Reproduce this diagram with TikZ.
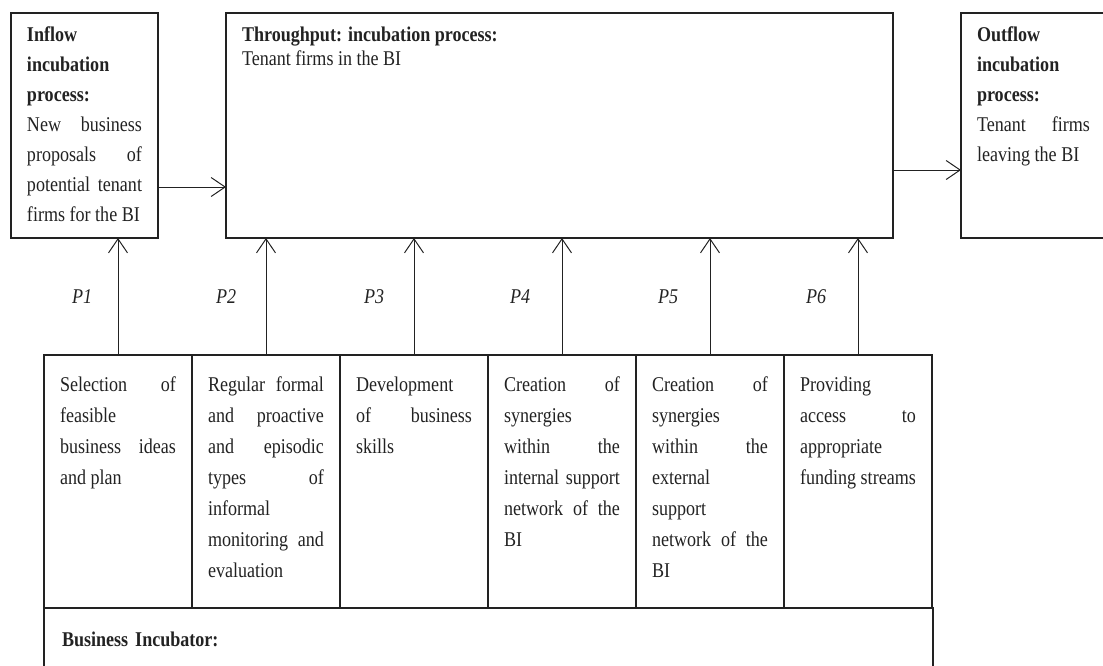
\documentclass[tikz,border=0pt]{standalone}
\usepackage{fontspec}
\setmainfont{Liberation Serif}[FakeStretch=0.86]
\usepackage{tikz}
\usetikzlibrary{arrows.meta,positioning}
\definecolor{ink}{HTML}{222222}
\newcommand{\sidetext}[2]{\parbox[t][197pt][t]{#1}{#2}}
\newcommand{\celltext}[1]{\parbox[t][209pt][t]{116pt}{#1}}
\tikzset{
  stage/.style={
    draw=ink, line width=1.3pt, text=ink, inner xsep=16pt, inner ysep=14pt,
    outer sep=0pt, font=\fontsize{21pt}{30pt}\selectfont
  },
  cell/.style={
    draw=ink, line width=1.3pt, text=ink, inner xsep=16pt, inner ysep=22pt,
    outer sep=0pt, font=\fontsize{21pt}{31pt}\selectfont
  },
  host/.style={
    draw=ink, line width=1.3pt, text=ink, inner xsep=18pt, text width=853pt,
    outer sep=0pt, minimum height=62pt, align=left,
    font=\fontsize{21pt}{25pt}\selectfont\bfseries
  },
  flow/.style={-{Straight Barb[length=14pt,width=19pt]}, line width=1pt, ink},
  plabel/.style={font=\fontsize{21pt}{25pt}\selectfont\itshape, text=ink},
}
\begin{document}
\begin{tikzpicture}[x=1pt, y=-1pt]
    \useasboundingbox (0,0) rectangle (1103,665);
    % top row: inflow, throughput, outflow
    \node[stage, anchor=north west] (inflow) at (11,13) {\sidetext{115pt}{%
      \textbf{Inflow}\\\textbf{incubation}\\\textbf{process:}\\
      New business\linebreak proposals of\linebreak potential tenant\linebreak firms for the BI}};
    \node[stage, right=68pt of inflow] (thru) {\sidetext{635pt}{%
      \textbf{Throughput: incubation process:}\\[-6pt]
      Tenant firms in the BI}};
    \node[stage, right=68pt of thru] (outflow) {\sidetext{113pt}{%
      \textbf{Outflow}\\\textbf{incubation}\\\textbf{process:}\\
      Tenant firms\linebreak leaving the BI}};
    % practices of the incubator
    \node[cell, anchor=north west] (c1) at (44,355) {\celltext{%
      Selection of\linebreak feasible\linebreak business ideas\linebreak and plan}};
    \node[cell, right=0pt of c1] (c2) {\celltext{%
      Regular formal\linebreak and proactive\linebreak and episodic\linebreak types of\linebreak
      informal\linebreak monitoring and\linebreak evaluation}};
    \node[cell, right=0pt of c2] (c3) {\celltext{%
      Development\linebreak of business\linebreak skills}};
    \node[cell, right=0pt of c3] (c4) {\celltext{%
      Creation of\linebreak synergies\linebreak within the\linebreak internal support\linebreak
      network of the\linebreak BI}};
    \node[cell, right=0pt of c4] (c5) {\celltext{%
      Creation of\linebreak synergies\linebreak within the\linebreak external\linebreak
      support\linebreak network of the\linebreak BI}};
    \node[cell, right=0pt of c5] (c6) {\celltext{%
      Providing\linebreak access to\linebreak appropriate\linebreak funding streams}};
    \node[host, below right=0pt of c1.south west] (bi) {Business Incubator:};
    % connectors
    \draw[flow] ([yshift=-61.5pt]inflow.east) -- ([yshift=-61.5pt]thru.west);
    \draw[flow] ([yshift=-44.5pt]thru.east) -- ([yshift=-44.5pt]outflow.west);
    \draw[flow] (c1.north) -- node[plabel, left=22pt] {P1} (c1.north |- inflow.south);
    \draw[flow] (c2.north) -- node[plabel, left=26pt] {P2} (c2.north |- thru.south);
    \draw[flow] (c3.north) -- node[plabel, left=26pt] {P3} (c3.north |- thru.south);
    \draw[flow] (c4.north) -- node[plabel, left=28pt] {P4} (c4.north |- thru.south);
    \draw[flow] (c5.north) -- node[plabel, left=28pt] {P5} (c5.north |- thru.south);
    \draw[flow] (c6.north) -- node[plabel, left=28pt] {P6} (c6.north |- thru.south);
\end{tikzpicture}
\end{document}
